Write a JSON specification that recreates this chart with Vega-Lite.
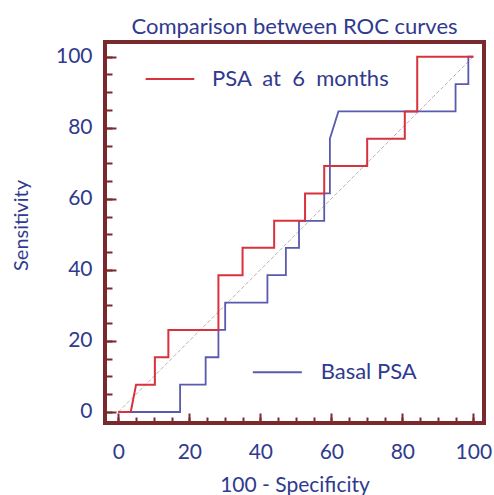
{
  "$schema": "https://vega.github.io/schema/vega-lite/v6.json",
  "width": 379,
  "height": 381,
  "autosize": "none",
  "padding": {"left": 105, "top": 42, "right": 10, "bottom": 72},
  "background": "white",
  "title": {"text": "Comparison between ROC curves", "font": "Lato", "fontSize": 22, "fontWeight": "normal", "color": "#303a8e", "anchor": "middle", "baseline": "alphabetic", "offset": 11, "dy": 25},
  "config": {
    "view": {"stroke": "#7a2a2c", "strokeWidth": 4}
  },
  "datasets": {
    "roc": [
      {"series": "Basal PSA", "i": 1, "x": 0, "y": 0},
      {"series": "Basal PSA", "i": 2, "x": 17.4, "y": 0},
      {"series": "Basal PSA", "i": 3, "x": 17.4, "y": 7.7},
      {"series": "Basal PSA", "i": 4, "x": 24.6, "y": 7.7},
      {"series": "Basal PSA", "i": 5, "x": 24.6, "y": 15.4},
      {"series": "Basal PSA", "i": 6, "x": 28.2, "y": 15.4},
      {"series": "Basal PSA", "i": 7, "x": 28.2, "y": 23.1},
      {"series": "Basal PSA", "i": 8, "x": 30.1, "y": 23.1},
      {"series": "Basal PSA", "i": 9, "x": 30.1, "y": 30.8},
      {"series": "Basal PSA", "i": 10, "x": 42.0, "y": 30.8},
      {"series": "Basal PSA", "i": 11, "x": 42.0, "y": 38.5},
      {"series": "Basal PSA", "i": 12, "x": 47.2, "y": 38.5},
      {"series": "Basal PSA", "i": 13, "x": 47.2, "y": 46.2},
      {"series": "Basal PSA", "i": 14, "x": 50.9, "y": 46.2},
      {"series": "Basal PSA", "i": 15, "x": 50.9, "y": 53.8},
      {"series": "Basal PSA", "i": 16, "x": 58.0, "y": 53.8},
      {"series": "Basal PSA", "i": 17, "x": 58.0, "y": 61.5},
      {"series": "Basal PSA", "i": 18, "x": 59.6, "y": 61.5},
      {"series": "Basal PSA", "i": 19, "x": 59.6, "y": 76.9},
      {"series": "Basal PSA", "i": 20, "x": 62.0, "y": 84.6},
      {"series": "Basal PSA", "i": 21, "x": 95.0, "y": 84.6},
      {"series": "Basal PSA", "i": 22, "x": 95.0, "y": 92.3},
      {"series": "Basal PSA", "i": 23, "x": 98.6, "y": 92.3},
      {"series": "Basal PSA", "i": 24, "x": 98.6, "y": 100},
      {"series": "Basal PSA", "i": 25, "x": 100, "y": 100},
      {"series": "PSA at 6 months", "i": 1, "x": 0, "y": 0},
      {"series": "PSA at 6 months", "i": 2, "x": 3.5, "y": 0},
      {"series": "PSA at 6 months", "i": 3, "x": 5.0, "y": 7.7},
      {"series": "PSA at 6 months", "i": 4, "x": 10.3, "y": 7.7},
      {"series": "PSA at 6 months", "i": 5, "x": 10.3, "y": 15.4},
      {"series": "PSA at 6 months", "i": 6, "x": 14.1, "y": 15.4},
      {"series": "PSA at 6 months", "i": 7, "x": 14.1, "y": 23.1},
      {"series": "PSA at 6 months", "i": 8, "x": 28.2, "y": 23.1},
      {"series": "PSA at 6 months", "i": 9, "x": 28.2, "y": 38.5},
      {"series": "PSA at 6 months", "i": 10, "x": 35.0, "y": 38.5},
      {"series": "PSA at 6 months", "i": 11, "x": 35.0, "y": 46.2},
      {"series": "PSA at 6 months", "i": 12, "x": 43.9, "y": 46.2},
      {"series": "PSA at 6 months", "i": 13, "x": 43.9, "y": 53.8},
      {"series": "PSA at 6 months", "i": 14, "x": 52.6, "y": 53.8},
      {"series": "PSA at 6 months", "i": 15, "x": 52.6, "y": 61.5},
      {"series": "PSA at 6 months", "i": 16, "x": 58.0, "y": 61.5},
      {"series": "PSA at 6 months", "i": 17, "x": 58.0, "y": 69.2},
      {"series": "PSA at 6 months", "i": 18, "x": 70.1, "y": 69.2},
      {"series": "PSA at 6 months", "i": 19, "x": 70.1, "y": 76.9},
      {"series": "PSA at 6 months", "i": 20, "x": 80.7, "y": 76.9},
      {"series": "PSA at 6 months", "i": 21, "x": 80.7, "y": 84.6},
      {"series": "PSA at 6 months", "i": 22, "x": 84.2, "y": 84.6},
      {"series": "PSA at 6 months", "i": 23, "x": 84.2, "y": 100},
      {"series": "PSA at 6 months", "i": 24, "x": 100, "y": 100}
    ],
    "diag": [{"x": 0, "y": 0}, {"x": 100, "y": 100}],
    "legend": [
      {"series": "PSA at 6 months", "label": "PSA\u00a0\u00a0at\u00a0\u00a06\u00a0\u00a0months", "x": 7.7, "x2": 21.4, "tx": 26.4, "y": 93.7},
      {"series": "Basal PSA", "label": "Basal PSA", "x": 37.9, "x2": 51.7, "tx": 57.0, "y": 11.2}
    ]
  },
  "resolve": {"axis": {"x": "independent", "y": "independent"}},
  "layer": [
    {
      "data": {"name": "diag"},
      "mark": {"type": "line", "color": "#c4b0ba", "strokeWidth": 1, "strokeDash": [4, 2]},
      "encoding": {
        "x": {"field": "x", "type": "quantitative",
          "scale": {"domain": [-3.75, 103.01], "nice": false, "zero": false},
          "axis": {"orient": "bottom", "values": [0, 5, 10, 15, 20, 25, 30, 35, 40, 45, 50, 55, 60, 65, 70, 75, 80, 85, 90, 95, 100],
            "title": null, "labels": false, "grid": false, "domain": false,
            "tickColor": "#7a2a2c", "tickWidth": 2, "tickSize": -6}},
        "y": {"field": "y", "type": "quantitative",
          "scale": {"domain": [-3.1, 104.13], "nice": false, "zero": false},
          "axis": {"orient": "left", "values": [0, 5, 10, 15, 20, 25, 30, 35, 40, 45, 50, 55, 60, 65, 70, 75, 80, 85, 90, 95, 100],
            "title": null, "labels": false, "grid": false, "domain": false,
            "tickColor": "#7a2a2c", "tickWidth": 2, "tickSize": -7}}
      }
    },
    {
      "data": {"name": "roc"},
      "transform": [{"filter": "datum.series === 'Basal PSA'"}],
      "mark": {"type": "line", "color": "#5a5aae", "strokeWidth": 1.8},
      "encoding": {
        "x": {"field": "x", "type": "quantitative",
          "scale": {"domain": [-3.75, 103.01], "nice": false, "zero": false},
          "axis": {"orient": "bottom", "values": [0, 20, 40, 60, 80, 100],
            "title": "100 - Specificity", "grid": false, "domain": false,
            "tickColor": "#7a2a2c", "tickWidth": 2, "tickSize": -10,
            "labelFont": "Lato", "labelFontSize": 21, "labelColor": "#303a8e",
            "labelPadding": 28, "labelFlush": false, "labelOverlap": false,
            "titleFont": "Lato", "titleFontSize": 21, "titleFontWeight": "normal", "titleColor": "#303a8e",
            "titlePadding": 12}},
        "y": {"field": "y", "type": "quantitative",
          "scale": {"domain": [-3.1, 104.13], "nice": false, "zero": false},
          "axis": {"orient": "left", "values": [0, 20, 40, 60, 80, 100],
            "title": "Sensitivity", "grid": false, "domain": false,
            "tickColor": "#7a2a2c", "tickWidth": 2, "tickSize": -11,
            "labelFont": "Lato", "labelFontSize": 21, "labelColor": "#303a8e",
            "labelPadding": 24, "labelFlush": false, "labelOverlap": false,
            "titleFont": "Lato", "titleFontSize": 20, "titleFontWeight": "normal", "titleColor": "#303a8e",
            "titleX": -78, "titleY": 183, "titleBaseline": "alphabetic", "titleAngle": -90}},
        "order": {"field": "i", "type": "quantitative"}
      }
    },
    {
      "data": {"name": "roc"},
      "transform": [{"filter": "datum.series === 'PSA at 6 months'"}],
      "mark": {"type": "line", "color": "#d8323c", "strokeWidth": 2},
      "encoding": {
        "x": {"field": "x", "type": "quantitative", "scale": {"domain": [-3.75, 103.01], "nice": false, "zero": false}, "axis": null},
        "y": {"field": "y", "type": "quantitative", "scale": {"domain": [-3.1, 104.13], "nice": false, "zero": false}, "axis": null},
        "order": {"field": "i", "type": "quantitative"}
      }
    },
    {
      "data": {"name": "legend"},
      "mark": {"type": "rule", "strokeWidth": 2},
      "encoding": {
        "x": {"field": "x", "type": "quantitative", "scale": {"domain": [-3.75, 103.01], "nice": false, "zero": false}, "axis": null},
        "x2": {"field": "x2"},
        "y": {"field": "y", "type": "quantitative", "scale": {"domain": [-3.1, 104.13], "nice": false, "zero": false}, "axis": null},
        "color": {"field": "series", "type": "nominal", "scale": {"domain": ["PSA at 6 months", "Basal PSA"], "range": ["#d8323c", "#5a5aae"]}, "legend": null}
      }
    },
    {
      "data": {"name": "legend"},
      "mark": {"type": "text", "align": "left", "baseline": "middle", "font": "Lato", "fontSize": 22, "color": "#303a8e"},
      "encoding": {
        "x": {"field": "tx", "type": "quantitative", "scale": {"domain": [-3.75, 103.01], "nice": false, "zero": false}, "axis": null},
        "y": {"field": "y", "type": "quantitative", "scale": {"domain": [-3.1, 104.13], "nice": false, "zero": false}, "axis": null},
        "text": {"field": "label"}
      }
    }
  ]
}
